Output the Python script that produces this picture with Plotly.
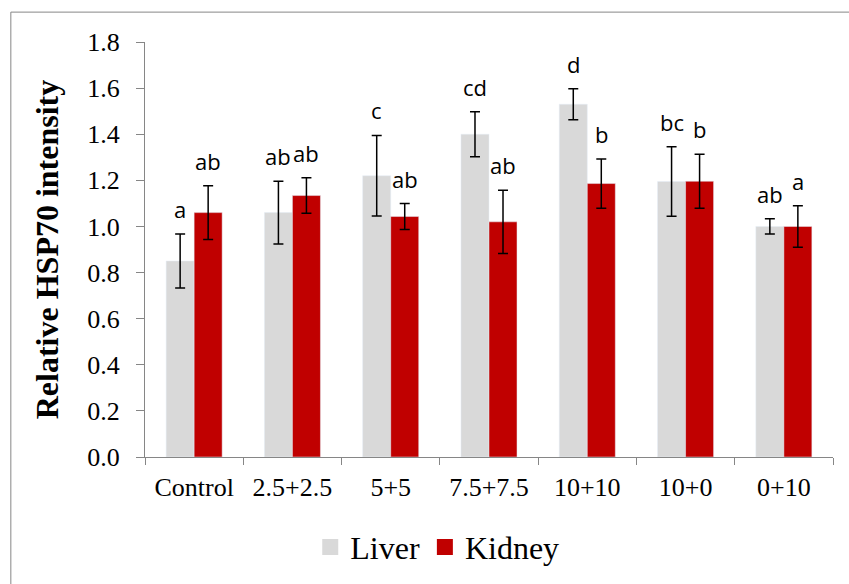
import plotly.graph_objects as go

categories = ["Control", "2.5+2.5", "5+5", "7.5+7.5", "10+10", "10+0", "0+10"]
liver = [0.85, 1.06, 1.22, 1.40, 1.53, 1.195, 1.00]
liver_err = [0.117, 0.136, 0.175, 0.098, 0.067, 0.151, 0.033]
kidney = [1.06, 1.134, 1.043, 1.02, 1.186, 1.196, 1.00]
kidney_err = [0.117, 0.077, 0.056, 0.137, 0.107, 0.117, 0.09]
liver_letters = ["a", "ab", "c", "cd", "d", "bc", "ab"]
kidney_letters = ["ab", "ab", "ab", "ab", "b", "b", "a"]
y_ticks = [0.0, 0.2, 0.4, 0.6, 0.8, 1.0, 1.2, 1.4, 1.6, 1.8]

LIVER_C = "#d9d9d9"
KIDNEY_C = "#c00000"
AXIS_C = "#868686"
SERIF = "Liberation Serif"
SANS = "Open Sans"
BARGAP = 0.43

fig = go.Figure()
err_style = dict(type="data", visible=True, color="black", thickness=1.5, width=5)
fig.add_trace(go.Bar(name="Liver", x=categories, y=liver, marker_color=LIVER_C,
                     error_y=dict(array=liver_err, **err_style), showlegend=False))
fig.add_trace(go.Bar(name="Kidney", x=categories, y=kidney, marker_color=KIDNEY_C,
                     error_y=dict(array=kidney_err, **err_style), showlegend=False))
# legend-only entries with larger square symbols
for nm, col in [("Liver", LIVER_C), ("Kidney", KIDNEY_C)]:
    fig.add_trace(go.Scatter(name=nm, x=[None], y=[None], mode="markers",
                             marker=dict(symbol="square", size=16, color=col),
                             showlegend=True))

bar_w = (1 - BARGAP) / 2
offsets = [-bar_w / 2, bar_w / 2]
annots = []
for s, (vals, errs, letters) in enumerate([(liver, liver_err, liver_letters),
                                           (kidney, kidney_err, kidney_letters)]):
    for i, (v, e, t) in enumerate(zip(vals, errs, letters)):
        annots.append(dict(x=i + offsets[s], y=v + e, xref="x", yref="y", text=t,
                           showarrow=False, yanchor="bottom", xanchor="center",
                           yshift=8, font=dict(family=SANS, size=22, color="black")))

fig.update_layout(
    width=849, height=584,
    margin=dict(l=145, r=16, t=42, b=127),
    paper_bgcolor="white", plot_bgcolor="white",
    barmode="group", bargap=BARGAP, bargroupgap=0,
    annotations=annots,
    legend=dict(orientation="h", xref="container", yref="container",
                x=0.515, y=0.063, xanchor="center", yanchor="middle",
                font=dict(family=SERIF, size=32, color="black"),
                itemsizing="trace", tracegroupgap=0, itemwidth=30),
    shapes=[dict(type="rect", xref="paper", yref="paper",
                 x0=-0.195, x1=1.5, y0=-0.6, y1=1.072,
                 line=dict(color=AXIS_C, width=1), fillcolor="rgba(0,0,0,0)",
                 layer="below")],
)
fig.update_xaxes(type="category", showline=True, linecolor=AXIS_C, linewidth=1,
                 ticks="outside", tickson="boundaries", ticklen=7, tickcolor=AXIS_C,
                 showgrid=False, zeroline=False, ticklabelstandoff=7,
                 tickfont=dict(family=SERIF, size=26, color="black"))
fig.update_yaxes(range=[0, 1.8], tickvals=y_ticks,
                 ticktext=[f"{v:.1f}" for v in y_ticks],
                 showline=True, linecolor=AXIS_C, linewidth=1,
                 ticks="outside", ticklen=8, tickcolor=AXIS_C,
                 showgrid=False, zeroline=False, ticklabelstandoff=11,
                 tickfont=dict(family=SERIF, size=26, color="black"),
                 title=dict(text="<b>Relative HSP70 intensity</b>",
                            font=dict(family=SERIF, size=32, color="black"),
                            standoff=19))

fig.write_html("out.html")
